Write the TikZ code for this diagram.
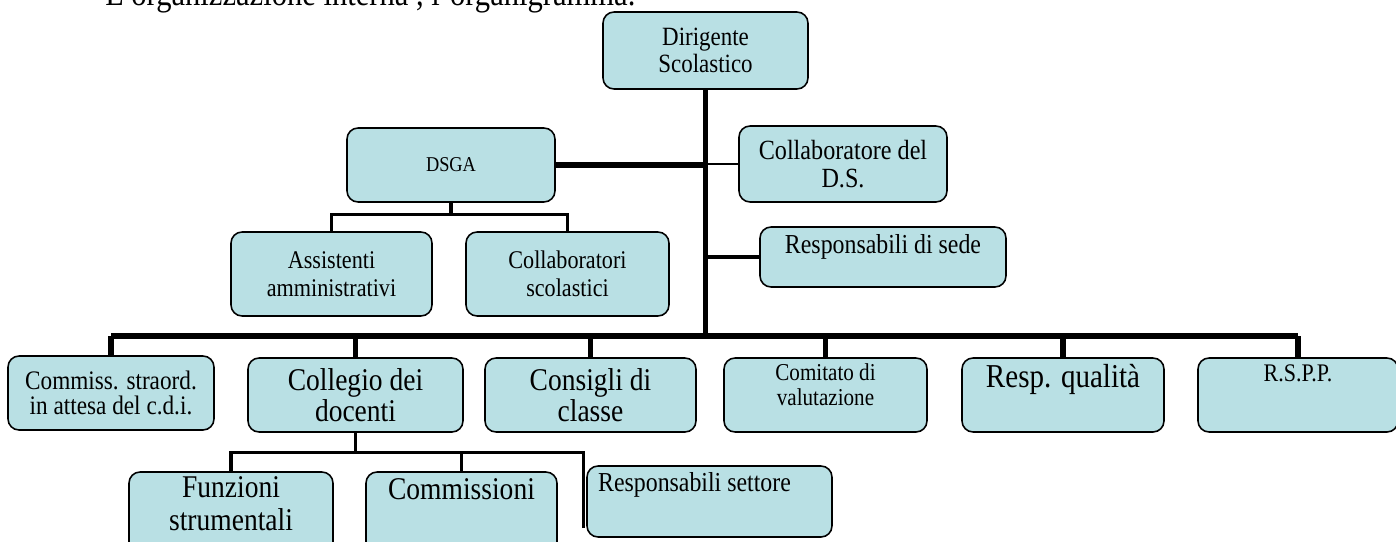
\documentclass[tikz,border=0pt]{standalone}
\usepackage{fontspec}
\setmainfont{Liberation Serif}[FakeStretch=0.87]
\definecolor{boxblue}{RGB}{185,224,228}
\tikzset{
  orgbox/.style={draw=black, line width=0.9pt, fill=boxblue, rounded corners=0.22cm, align=center, inner sep=2pt},
  toptext/.style={anchor=north, align=center, inner sep=0pt},
  trunk/.style={line width=3.3pt},
  sub/.style={line width=1.8pt},
  thin/.style={line width=1.2pt}
}
\newcommand{\fz}[2]{\fontsize{#1}{#2}\selectfont}
\begin{document}
\begin{tikzpicture}[x=0.02cm, y=-0.02cm]
    \useasboundingbox (0,0) rectangle (1396,541);

    % Title (cut at the top)
    \node[anchor=base west, inner sep=0pt, font=\fz{20}{24}] (titolo) at (105,6) {L'organizzazione interna , l'organigramma.};

    % Top part
    \node[orgbox, minimum width=4.1cm, minimum height=1.54cm, font=\fz{15}{15.5}] (dir) at (705.5,50.5) {Dirigente\\Scolastico};
    \node[orgbox, minimum width=4.16cm, minimum height=1.48cm, font=\fz{12}{14}] (dsga) at (451,165) {DSGA};
    \node[orgbox, minimum width=4.16cm, minimum height=1.52cm, font=\fz{15.8}{15.5}] (collds) at (843,164) {Collaboratore del\\D.S.};
    \node[orgbox, minimum width=4.92cm, minimum height=1.2cm,
          label={[toptext, yshift=-0.15cm, font=\fz{15.6}{18}]north:Responsabili di sede}] (respsede) at (883,257) {};
    \node[orgbox, minimum width=4.02cm, minimum height=1.68cm, font=\fz{14.5}{16}] (assist) at (331.5,274) {Assistenti\\amministrativi};
    \node[orgbox, minimum width=4.06cm, minimum height=1.68cm, font=\fz{14.5}{16}] (collsc) at (567.5,274) {Collaboratori\\scolastici};

    % Bottom row
    \node[orgbox, minimum width=4.12cm, minimum height=1.48cm, font=\fz{15.2}{14}] (commiss) at (111,393) {Commiss. straord.\\in attesa del c.d.i.};
    \node[orgbox, minimum width=4.3cm, minimum height=1.48cm, font=\fz{18}{17.5}] (collegio) at (355.5,395) {Collegio dei\\docenti};
    \node[orgbox, minimum width=4.22cm, minimum height=1.48cm, font=\fz{18}{17.5}] (consigli) at (590.5,395) {Consigli di\\classe};
    \node[orgbox, minimum width=4.06cm, minimum height=1.48cm,
          label={[toptext, yshift=-0.12cm, font=\fz{13.8}{14.2}]north:Comitato di\\valutazione}] (comitato) at (825.5,395) {};
    \node[orgbox, minimum width=4.04cm, minimum height=1.48cm,
          label={[toptext, yshift=-0.14cm, font=\fz{19}{20}]north:Resp. qualità}] (qualita) at (1063,395) {};
    \node[orgbox, minimum width=4.0cm, minimum height=1.48cm,
          label={[toptext, yshift=-0.15cm, font=\fz{14.4}{16}]north:R.S.P.P.}] (rspp) at (1298,395) {};

    % Under the Collegio
    \node[orgbox, minimum width=4.08cm, minimum height=1.76cm,
          label={[toptext, yshift=-0.1cm, font=\fz{18}{19}]north:Funzioni\\strumentali}] (funz) at (231,516) {};
    \node[orgbox, minimum width=3.82cm, minimum height=1.76cm,
          label={[toptext, yshift=-0.14cm, font=\fz{18}{19}]north:Commissioni}] (commissioni) at (461.5,516) {};
    \node[orgbox, minimum width=4.9cm, minimum height=1.42cm,
          label={[toptext, xshift=-0.3cm, yshift=-0.13cm, font=\fz{15.6}{17}]north:Responsabili settore}] (rsett) at (709.5,501.5) {};

    % Connectors
    \coordinate (bus) at (706,336);
    \draw[trunk] (dir.south) -- (dir.south |- bus);
    \draw[trunk] (dsga.east) -- (dsga.east -| dir.south);
    \draw[thin] (collds.west) -- (collds.west -| dir.south);
    \draw[sub] (respsede.west) -- (respsede.west -| dir.south);
    \draw[trunk] (commiss.north |- bus) -- (rspp.north |- bus);
    \foreach \n in {commiss,collegio,consigli,comitato,qualita,rspp}
        \draw[trunk] (\n.north) -- (\n.north |- bus);

    \draw[sub] (dsga.south) -- ++(0,12) coordinate (dbus);
    \draw[sub] (assist.north) |- (dbus) -| (collsc.north);

    \draw[sub] (collegio.south) -- ++(0,20) coordinate (cbus);
    \draw[sub] (funz.north) |- (cbus) -| (commissioni.north);
    \draw[sub] (cbus) -| ([xshift=-0.05cm, yshift=0.2cm]rsett.south west);
\end{tikzpicture}
\end{document}
